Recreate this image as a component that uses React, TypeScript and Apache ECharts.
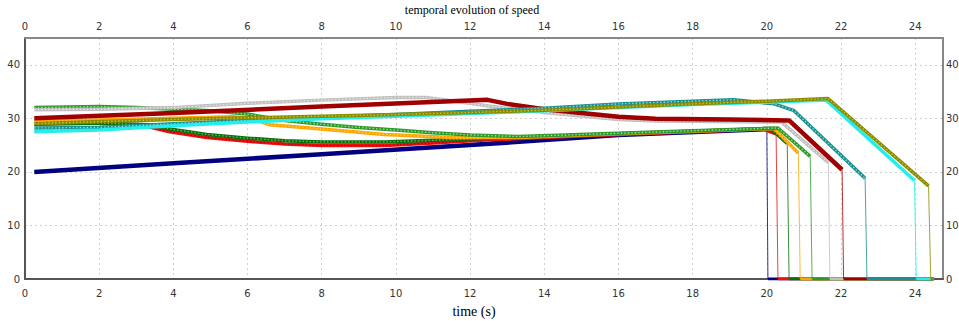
import React, { useEffect, useRef } from "react";
import * as echarts from "echarts";

// ---- data (time in s, speed) ----
const navyT = [0.25, 4, 8, 12, 16, 20.0, 20.03, 24.5];
const navyV = [20.0, 21.6, 23.3, 25.0, 26.9, 28.0, 0, 0];

const redT = [0.25, 2, 3.1, 3.9, 4.9, 6, 7, 8, 9.7, 11, 12.5, 14, 16, 18, 19.9, 20.25, 20.3, 24.5];
const redV = [29.2, 29.1, 28.8, 27.5, 26.4, 25.7, 25.2, 24.95, 24.95, 25.4, 26.0, 26.4, 27.0, 27.5, 28.0, 27.1, 0, 0];

const dgreenT = [0.25, 2, 3.4, 3.9, 4.9, 6, 7, 8, 9.7, 11, 12.5, 14, 16, 18, 20.1, 20.55, 20.6, 24.5];
const dgreenV = [28.9, 29.1, 28.8, 28.0, 27.0, 26.3, 25.8, 25.6, 25.6, 25.9, 26.3, 26.6, 27.1, 27.6, 28.1, 25.3, 0, 0];

const orangeT = [0.25, 2, 4, 5.6, 6.1, 6.6, 8, 9.7, 11.5, 13.3, 16, 18, 20.2, 20.85, 20.9, 24.5];
const orangeV = [29.4, 29.7, 30.0, 30.3, 30.0, 28.8, 28.0, 27.0, 26.4, 26.4, 27.1, 27.6, 28.1, 23.5, 0, 0];

const lgreenT = [0.25, 2, 3, 4, 5, 6, 7, 8, 9, 10, 11, 12, 13.3, 16, 18, 20.3, 21.17, 21.22, 24.5];
const lgreenV = [32.0, 32.2, 32.0, 31.7, 31.4, 30.8, 29.6, 28.9, 28.3, 27.8, 27.3, 26.9, 26.6, 27.2, 27.7, 28.2, 22.9, 0, 0];

const grayT = [0.25, 2, 4, 6, 8, 10, 10.8, 11.5, 12.5, 14, 16, 17, 20.4, 21.66, 21.7, 24.5];
const grayV = [31.6, 31.7, 32.0, 32.8, 33.4, 33.9, 33.9, 33.3, 32.3, 31.1, 29.8, 29.5, 29.3, 21.7, 0, 0];

const dredT = [0.25, 4, 8, 12.47, 13, 14, 15, 16, 17, 19, 20.6, 22.03, 22.07, 24.5];
const dredV = [30.0, 31.0, 32.2, 33.45, 32.7, 31.7, 31.0, 30.3, 29.9, 29.8, 29.6, 20.4, 0, 0];

const tealT = [0.25, 2, 4, 6, 8, 10, 12, 14, 16, 18, 19.1, 20.2, 20.72, 22.65, 22.7, 24.5];
const tealV = [28.2, 28.3, 29.0, 29.6, 30.2, 30.7, 31.3, 31.9, 32.7, 33.2, 33.45, 32.7, 31.5, 18.8, 0, 0];

const cyanT = [0.25, 2, 4, 6, 8, 10, 12, 14, 16, 18, 20, 21.6, 23.98, 24.03, 24.5];
const cyanV = [27.5, 27.8, 28.6, 29.3, 29.9, 30.4, 30.9, 31.4, 32.0, 32.6, 33.0, 33.4, 18.4, 0, 0];

const oliveT = [0.25, 2, 4, 6, 8, 10, 12, 14, 16, 18, 20, 21.65, 24.36, 24.42, 24.5];
const oliveV = [29.0, 29.4, 29.8, 30.1, 30.4, 30.7, 31.1, 31.5, 32.1, 32.7, 33.2, 33.7, 17.4, 0, 0];

const xTicks = [0, 2, 4, 6, 8, 10, 12, 14, 16, 18, 20, 22, 24];
const yTicks = [0, 10, 20, 30, 40];

const runs = [
  { name: "navy", t: navyT, v: navyV, color: "#000080", dots: "", w: 4.5 },
  { name: "red", t: redT, v: redV, color: "#ee1010", dots: "#b00000", w: 3.5 },
  { name: "dgreen", t: dgreenT, v: dgreenV, color: "#0a700a", dots: "#6cc06c", w: 3.5 },
  { name: "orange", t: orangeT, v: orangeV, color: "#ffa500", dots: "#ffd24d", w: 3.5 },
  { name: "lgreen", t: lgreenT, v: lgreenV, color: "#2e9a2e", dots: "#a5e6a5", w: 3.5 },
  { name: "gray", t: grayT, v: grayV, color: "#c0c0c0", dots: "#e8e8e8", w: 3.5 },
  { name: "dred", t: dredT, v: dredV, color: "#a00000", dots: "", w: 4.5 },
  { name: "teal", t: tealT, v: tealV, color: "#1a9090", dots: "#9fe0e0", w: 3.5 },
  { name: "cyan", t: cyanT, v: cyanV, color: "#22eeee", dots: "", w: 3.5 },
  { name: "olive", t: oliveT, v: oliveV, color: "#8b8b00", dots: "#c8c840", w: 3.5 },
];

const SANS = "DejaVu Sans";
const SERIF = "Liberation Serif";

function buildSeries() {
  const out: any[] = [];
  runs.forEach((r) => {
    const pts = r.t.map((t, i) => [t, r.v[i]]);
    const firstZero = pts.findIndex((p) => p[1] === 0);
    const main = pts.slice(0, firstZero);
    const drop = [pts[firstZero - 1], pts[firstZero]];
    const zero = pts.slice(firstZero);
    const base = { type: "line", symbol: "none", silent: true, animation: false, xAxisIndex: 0, yAxisIndex: 0 };
    out.push({ ...base, name: r.name, data: main, lineStyle: { color: r.color, width: r.w, join: "round" }, z: 3 });
    if (r.dots) {
      out.push({
        ...base,
        name: r.name + "-dots",
        data: main,
        lineStyle: { color: r.dots, width: 1.3, type: [1.3, 2.2] },
        z: 3,
      });
    }
    out.push({ ...base, name: r.name + "-drop", data: drop, lineStyle: { color: r.color, width: 1, opacity: 0.8 }, z: 2 });
    out.push({ ...base, name: r.name + "-zero", data: zero, lineStyle: { color: r.color, width: 3 }, z: 2 });
  });
  return out;
}

export default function App() {
  const ref = useRef<HTMLDivElement>(null);
  useEffect(() => {
    if (!ref.current) return;
    const chart = echarts.init(ref.current, null, { renderer: "svg" });
    const labelStyle = { fontFamily: SANS, fontSize: 10, color: "#333" };
    const xBase = {
      type: "value",
      min: xTicks[0],
      max: 24.75,
      interval: 2,
      axisTick: { show: false },
    };
    const yBase = {
      type: "value",
      min: yTicks[0],
      max: 45,
      interval: 10,
      axisTick: { show: false },
    };
    chart.setOption({
      animation: false,
      backgroundColor: "#fff",
      grid: {
        left: 25,
        top: 38,
        width: 918,
        height: 241,
        containLabel: false,
        outerBoundsMode: "none",
      },
      xAxis: [
        {
          ...xBase,
          position: "bottom",
          axisLine: { show: true, onZero: false, lineStyle: { color: "#555", width: 2 } },
          axisLabel: { ...labelStyle, margin: 9, showMaxLabel: false },
          splitLine: { show: true, lineStyle: { color: "#cfcfcf", type: [2, 3], width: 1 } },
        },
        {
          ...xBase,
          position: "top",
          axisLine: { show: true, onZero: false, lineStyle: { color: "#888", width: 2 } },
          axisLabel: { ...labelStyle, margin: 7, showMaxLabel: false },
          splitLine: { show: false },
        },
      ],
      yAxis: [
        {
          ...yBase,
          position: "left",
          axisLine: { show: true, onZero: false, lineStyle: { color: "#555", width: 2 } },
          axisLabel: { ...labelStyle, margin: 5, showMaxLabel: false },
          splitLine: { show: true, lineStyle: { color: "#cfcfcf", type: [2, 3], width: 1 } },
        },
        {
          ...yBase,
          position: "right",
          axisLine: { show: true, onZero: false, lineStyle: { color: "#888", width: 2 } },
          axisLabel: { ...labelStyle, margin: 3, showMaxLabel: false, align: "left" },
          splitLine: { show: false },
        },
      ],
      graphic: [
        {
          type: "text",
          x: 472,
          y: 10,
          style: {
            text: "temporal evolution of speed",
            fontFamily: SERIF,
            fontSize: 12,
            fill: "#000",
            textAlign: "center",
            textVerticalAlign: "middle",
          },
        },
        {
          type: "text",
          x: 474,
          y: 311,
          style: {
            text: "time (s)",
            fontFamily: SERIF,
            fontSize: 14,
            fill: "#000",
            textAlign: "center",
            textVerticalAlign: "middle",
          },
        },
      ],
      series: buildSeries(),
    });
    return () => chart.dispose();
  }, []);
  return (
    <div
      ref={ref}
      style={{ position: "fixed", left: 0, top: 0, width: 959, height: 321, background: "#fff" }}
    />
  );
}
